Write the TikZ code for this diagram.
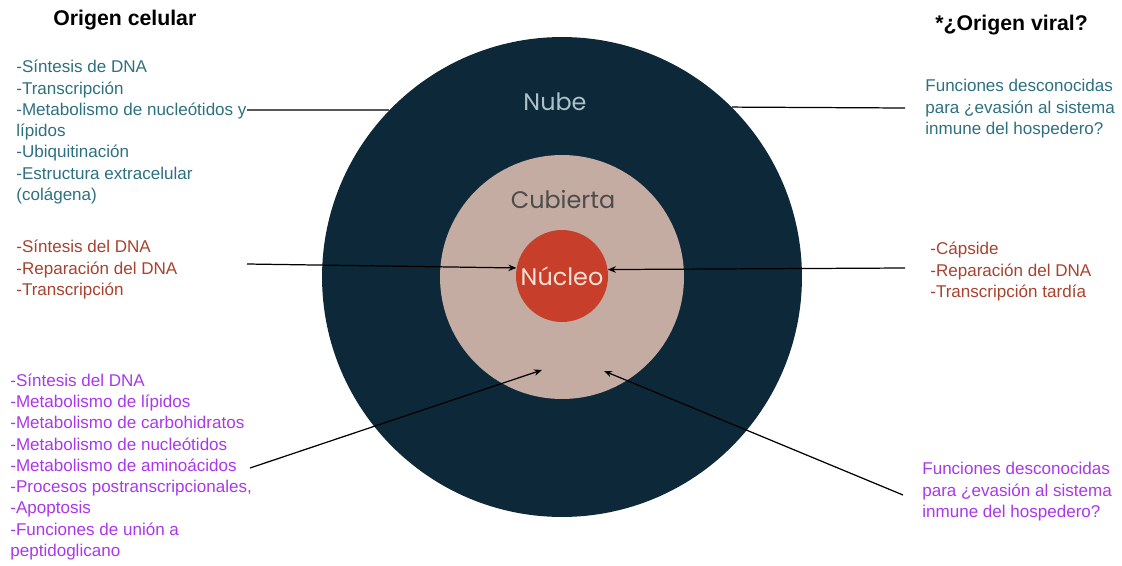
\documentclass[tikz,border=0pt]{standalone}
\usepackage{fontspec}
\setmainfont{Liberation Sans}
\newfontfamily\circfont{Poppins}
\usetikzlibrary{arrows.meta,positioning}
\definecolor{nubecol}{RGB}{13,41,57}
\definecolor{cubcol}{RGB}{197,172,162}
\definecolor{nuccol}{RGB}{199,62,42}
\definecolor{tealtxt}{RGB}{45,112,128}
\definecolor{redtxt}{RGB}{168,66,46}
\definecolor{purtxt}{RGB}{170,55,235}

\begin{document}
\begin{tikzpicture}[x=0.02cm, y=-0.02cm,
  title/.style={font=\fontsize{12.1}{14}\selectfont\bfseries,
                inner sep=0pt, anchor=base west},
  lst/.style={font=\fontsize{9.7}{12.1}\selectfont, align=left,
              inner sep=0pt, anchor=base west},
  layer/.style={circle, inner sep=0pt},
  lbl/.style={font=\circfont\fontsize{13.6}{15}\selectfont},
  arr/.style={-{Stealth[length=1.6mm,width=1.3mm]}, line width=0.7pt},
  ln/.style={line width=0.7pt}
]
  \useasboundingbox (0,0) rectangle (1122,565);

  \node[layer, fill=nubecol, minimum size=9.6cm] (nube) at (562,277) {};
  \node[layer, fill=cubcol, minimum size=4.88cm] (cubierta) at (562,277) {};
  \node[layer, fill=nuccol, minimum size=1.84cm, lbl, text={rgb,255:red,252;green,226;blue,214}]
    (nucleo) at (562,276) {Núcleo};
  \node[lbl, text={rgb,255:red,172;green,192;blue,202}] (nubelbl) at (555,102) {Nube};
  \node[lbl, text=black!70] (cublbl) at (563,200) {Cubierta};

  \node[title] (celular) at (53,25) {Origen celular};
  \node[title] (viral) at (935,30) {*¿Origen viral?};

  \node[lst, text=tealtxt] (nubecel) at (16,200.5)
    {-Síntesis de DNA\\-Transcripción\\-Metabolismo de nucleótidos y\\lípidos\\-Ubiquitinación\\-Estructura extracelular\\(colágena)};
  \node[lst, text=redtxt] (nuccel) at (16,295.5)
    {-Síntesis del DNA\\-Reparación del DNA\\-Transcripción};
  \node[lst, text=purtxt] (cubcel) at (10,556.5)
    {-Síntesis del DNA\\-Metabolismo de lípidos\\-Metabolismo de carbohidratos\\-Metabolismo de nucleótidos\\-Metabolismo de aminoácidos\\-Procesos postranscripcionales,\\-Apoptosis\\-Funciones de unión a\\peptidoglicano};
  \node[lst, text=tealtxt] (nubevir) at (925,134.5)
    {Funciones desconocidas\\para ¿evasión al sistema\\inmune del hospedero?};
  \node[lst, text=redtxt] (nucvir) at (930,297.5)
    {-Cápside\\-Reparación del DNA\\-Transcripción tardía};
  \node[lst, text=purtxt] (cubvir) at (922,517.5)
    {Funciones desconocidas\\para ¿evasión al sistema\\inmune del hospedero?};

  \coordinate (nubecelend) at (247,110);
  \coordinate (nubevirend) at (905,108);
  \coordinate (nuccelend) at (247,264);
  \coordinate (nucvirend) at (905,268);
  \coordinate (cubcelend) at (250,468);
  \coordinate (cubvirend) at (903,495);
  \coordinate (cubin1) at (542,370);
  \coordinate (cubin2) at (604,371);

  \draw[ln] (nubecelend) -- (nube.136);
  \draw[ln] (nube.45) -- (nubevirend);
  \draw[arr] (nuccelend) -- (nucleo.170);
  \draw[arr] (nucvirend) -- (nucleo.8);
  \draw[arr] (cubcelend) -- (cubin1);
  \draw[arr] (cubvirend) -- (cubin2);
\end{tikzpicture}
\end{document}
